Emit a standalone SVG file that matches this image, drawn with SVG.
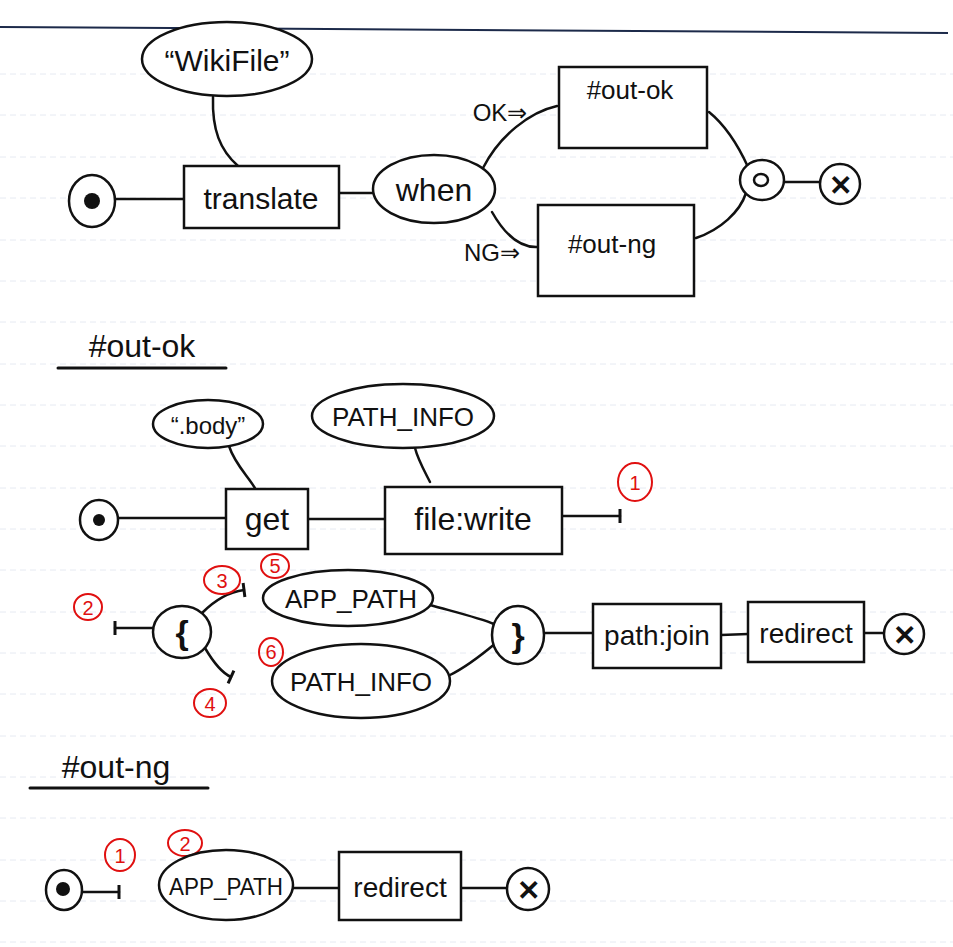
<svg xmlns="http://www.w3.org/2000/svg" width="953" height="947" viewBox="0 0 953 947">
<defs>
<style>
.s{fill:none;stroke:#111;stroke-width:2.5;stroke-linecap:round;stroke-linejoin:round}
.n{fill:#fff;stroke:#111;stroke-width:2.5}
.t{font-family:"Liberation Sans",Arial,sans-serif;fill:#111;text-anchor:middle;dominant-baseline:central}
.r{fill:none;stroke:#e01010;stroke-width:2}
.rt{font-family:"Liberation Sans",Arial,sans-serif;fill:#e01010;text-anchor:middle;dominant-baseline:central;font-size:20px}
.rule{stroke:#e6eaf2;stroke-width:1;stroke-dasharray:6 4}
.h{stroke:#111;stroke-width:3;stroke-linecap:round}
</style>
<marker id="tick" markerUnits="userSpaceOnUse" markerWidth="4" markerHeight="16" refX="2" refY="8" orient="auto" viewBox="0 0 4 16">
<path d="M2,1 L2,15" stroke="#111" stroke-width="3"/>
</marker>
</defs>
<rect width="953" height="947" fill="#fff"/>
<g id="paper">
<line x1="0" y1="74" x2="953" y2="74" class="rule"/>
<line x1="0" y1="115" x2="953" y2="115" class="rule"/>
<line x1="0" y1="157" x2="953" y2="157" class="rule"/>
<line x1="0" y1="198" x2="953" y2="198" class="rule"/>
<line x1="0" y1="240" x2="953" y2="240" class="rule"/>
<line x1="0" y1="281" x2="953" y2="281" class="rule"/>
<line x1="0" y1="322" x2="953" y2="322" class="rule"/>
<line x1="0" y1="364" x2="953" y2="364" class="rule"/>
<line x1="0" y1="405" x2="953" y2="405" class="rule"/>
<line x1="0" y1="446" x2="953" y2="446" class="rule"/>
<line x1="0" y1="488" x2="953" y2="488" class="rule"/>
<line x1="0" y1="529" x2="953" y2="529" class="rule"/>
<line x1="0" y1="570" x2="953" y2="570" class="rule"/>
<line x1="0" y1="612" x2="953" y2="612" class="rule"/>
<line x1="0" y1="653" x2="953" y2="653" class="rule"/>
<line x1="0" y1="694" x2="953" y2="694" class="rule"/>
<line x1="0" y1="736" x2="953" y2="736" class="rule"/>
<line x1="0" y1="777" x2="953" y2="777" class="rule"/>
<line x1="0" y1="818" x2="953" y2="818" class="rule"/>
<line x1="0" y1="860" x2="953" y2="860" class="rule"/>
<line x1="0" y1="901" x2="953" y2="901" class="rule"/>
<line x1="0" y1="942" x2="953" y2="942" class="rule"/>
<line x1="0" y1="27" x2="948" y2="33" stroke="#1c2a4a" stroke-width="2"/>
</g>

<g id="connectors">
<path class="s" d="M213,97 C212,130 220,150 238,166"/>
<path class="s" d="M116,199 L183,199"/>
<path class="s" d="M339,193 L373,193"/>
<path class="s" d="M483,168 C500,135 530,112 557,106"/>
<path class="s" d="M492,212 C505,235 520,248 538,247"/>
<path class="s" d="M709,112 C725,125 738,145 748,167"/>
<path class="s" d="M696,238 C720,230 740,212 746,193"/>
<path class="s" d="M783,182 L819,182"/>

<path class="s" d="M229,446 C235,465 250,478 256,490"/>
<path class="s" d="M415,448 C418,460 425,472 430,482"/>
<path class="s" d="M119,518 L226,518"/>
<path class="s" d="M308,519 L385,519"/>
<path class="s" d="M562,516 L620,516" marker-end="url(#tick)"/>

<path class="s" d="M153,628 L115,628" marker-end="url(#tick)"/>
<path class="s" d="M202,613 C215,600 228,592 244,590" marker-end="url(#tick)"/>
<path class="s" d="M205,648 C212,660 220,672 231,677" marker-end="url(#tick)"/>
<path class="s" d="M430,605 C455,612 480,618 494,624"/>
<path class="s" d="M450,675 C470,665 485,652 497,642"/>
<path class="s" d="M544,633 L593,633"/>
<path class="s" d="M721,635 L748,634"/>
<path class="s" d="M864,633 L883,633"/>

<path class="s" d="M83,892 L119,892" marker-end="url(#tick)"/>
<path class="s" d="M293,888 L339,888"/>
<path class="s" d="M461,888 L507,888"/>
</g>

<g id="n-wikifile"><ellipse class="n" cx="227" cy="59" rx="85" ry="37"/><text class="t" x="227" y="60" font-size="30">“WikiFile”</text></g>
<g id="n-start1"><ellipse class="n" cx="92" cy="201" rx="23" ry="26"/><circle cx="92" cy="201" r="8" fill="#111"/></g>
<g id="n-translate"><rect class="n" x="184" y="166" width="155" height="62"/><text class="t" x="261" y="198" font-size="30">translate</text></g>
<g id="n-when"><ellipse class="n" cx="434" cy="189" rx="61" ry="34"/><text class="t" x="434" y="190" font-size="32">when</text></g>
<g id="l-ok"><text class="t" x="500" y="112" font-size="24">OK⇒</text></g>
<g id="n-outok"><rect class="n" x="559" y="67" width="148" height="81"/><text class="t" x="630" y="90" font-size="26">#out-ok</text></g>
<g id="l-ng"><text class="t" x="492" y="252" font-size="24">NG⇒</text></g>
<g id="n-outng"><rect class="n" x="538" y="205" width="156" height="91"/><text class="t" x="612" y="244" font-size="26">#out-ng</text></g>
<g id="n-merge"><ellipse class="n" cx="762" cy="180" rx="22" ry="20"/><ellipse cx="761" cy="180" rx="7" ry="6" fill="none" stroke="#111" stroke-width="2.5"/></g>
<g id="n-end1"><circle class="n" cx="840" cy="184" r="20"/><text class="t" x="840" y="185" font-size="28" font-weight="bold">✕</text></g>

<g id="h-outok"><text class="t" x="142" y="346" font-size="32">#out-ok</text><line class="h" x1="58" y1="368" x2="226" y2="368"/></g>
<g id="n-body"><ellipse class="n" cx="208" cy="424" rx="55" ry="24"/><text class="t" x="208" y="425" font-size="24">“.body”</text></g>
<g id="n-pathinfo1"><ellipse class="n" cx="403" cy="416" rx="91" ry="32"/><text class="t" x="403" y="417" font-size="26">PATH_INFO</text></g>
<g id="n-start2"><ellipse class="n" cx="99" cy="520" rx="19" ry="20"/><circle cx="99" cy="520" r="6" fill="#111"/></g>
<g id="n-get"><rect class="n" x="226" y="489" width="82" height="60"/><text class="t" x="267" y="519" font-size="32">get</text></g>
<g id="n-filewrite"><rect class="n" x="385" y="487" width="177" height="67"/><text class="t" x="473" y="519" font-size="32">file:write</text></g>
<g id="m-1a"><ellipse class="r" cx="635" cy="482" rx="17" ry="19"/><text class="rt" x="635" y="483">1</text></g>

<g id="m-2a"><ellipse class="r" cx="88" cy="607" rx="14" ry="13"/><text class="rt" x="88" y="608">2</text></g>
<g id="n-open"><ellipse class="n" cx="182" cy="632" rx="29" ry="26"/><text class="t" x="182" y="632" font-size="34" font-weight="bold">{</text></g>
<g id="m-3"><ellipse class="r" cx="222" cy="580" rx="18" ry="14"/><text class="rt" x="222" y="581">3</text></g>
<g id="m-4"><ellipse class="r" cx="210" cy="703" rx="16" ry="14"/><text class="rt" x="210" y="704">4</text></g>
<g id="m-5"><ellipse class="r" cx="275" cy="566" rx="14" ry="12"/><text class="rt" x="275" y="566" font-size="18">5</text></g>
<g id="m-6"><ellipse class="r" cx="271" cy="652" rx="12" ry="14"/><text class="rt" x="271" y="652">6</text></g>
<g id="n-apppath1"><ellipse class="n" cx="348" cy="598" rx="85" ry="28"/><text class="t" x="351" y="599" font-size="26">APP_PATH</text></g>
<g id="n-pathinfo2"><ellipse class="n" cx="361" cy="681" rx="89" ry="37"/><text class="t" x="361" y="682" font-size="26">PATH_INFO</text></g>
<g id="n-close"><ellipse class="n" cx="518" cy="635" rx="26" ry="29"/><text class="t" x="518" y="635" font-size="34" font-weight="bold">}</text></g>
<g id="n-pathjoin"><rect class="n" x="593" y="604" width="128" height="64"/><text class="t" x="657" y="635" font-size="28">path:join</text></g>
<g id="n-redirect1"><rect class="n" x="748" y="602" width="116" height="60"/><text class="t" x="806" y="633" font-size="28">redirect</text></g>
<g id="n-end2"><circle class="n" cx="904" cy="634" r="20"/><text class="t" x="904" y="635" font-size="28" font-weight="bold">✕</text></g>

<g id="h-outng"><text class="t" x="116" y="767" font-size="32">#out-ng</text><line class="h" x1="30" y1="788" x2="208" y2="788"/></g>
<g id="n-start3"><ellipse class="n" cx="64" cy="890" rx="18" ry="20"/><circle cx="63" cy="889" r="7" fill="#111"/></g>
<g id="m-1b"><ellipse class="r" cx="120" cy="855" rx="15" ry="16"/><text class="rt" x="120" y="856">1</text></g>
<g id="m-2b"><ellipse class="r" cx="185" cy="843" rx="17" ry="13"/><text class="rt" x="185" y="844">2</text></g>
<g id="n-apppath2"><ellipse class="n" cx="226" cy="885" rx="67" ry="35"/><text class="t" x="226" y="886" font-size="24" textLength="114" lengthAdjust="spacingAndGlyphs">APP_PATH</text></g>
<g id="n-redirect2"><rect class="n" x="339" y="852" width="122" height="68"/><text class="t" x="400" y="887" font-size="28">redirect</text></g>
<g id="n-end3"><circle class="n" cx="528" cy="889" r="21"/><text class="t" x="528" y="890" font-size="28" font-weight="bold">✕</text></g>
</svg>
